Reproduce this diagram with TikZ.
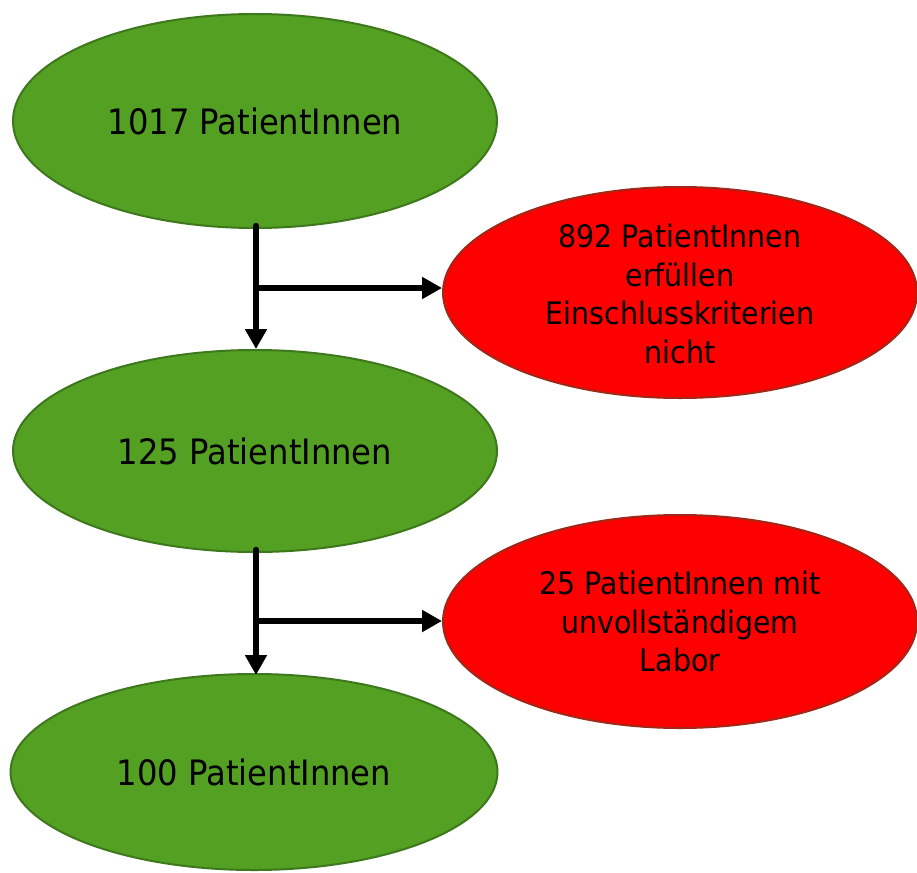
\documentclass[tikz,border=0pt]{standalone}
\usepackage{fontspec}
\setmainfont{DejaVu Sans}[FakeStretch=0.92]
\usetikzlibrary{arrows.meta,shapes.geometric}
\definecolor{gfill}{RGB}{84,160,34}
\definecolor{gline}{RGB}{62,120,28}
\definecolor{rfill}{RGB}{255,0,0}
\definecolor{rline}{RGB}{160,40,24}
\tikzset{
  gell/.style={ellipse, draw=gline, fill=gfill, line width=2pt, inner sep=0pt},
  rell/.style={ellipse, draw=rline, fill=rfill, line width=2pt, inner sep=0pt},
  gtxt/.style={inner sep=0pt, align=center, font=\fontsize{35}{42}\selectfont},
  rtxt/.style={inner sep=0pt, align=center, font=\fontsize{31}{38.7}\selectfont},
  flow/.style={line width=6.5pt, -{Triangle[length=20pt,width=21pt]}},
}
\begin{document}
\begin{tikzpicture}[x=1pt,y=-1pt]
\useasboundingbox (0,0) rectangle (917,872);
% ellipses
\node[gell, minimum width=484pt, minimum height=214pt] (g1) at (255,121) {};
\node[gell, minimum width=484pt, minimum height=202pt] (g2) at (255,451) {};
\node[gell, minimum width=487pt, minimum height=196pt] (g3) at (254,772) {};
\node[rell, minimum width=474pt, minimum height=211pt] (r1) at (680,292.5) {};
\node[rell, minimum width=474pt, minimum height=213pt] (r2) at (680,621.5) {};
% texts
\node[gtxt] (t1) at (g1) {1017 PatientInnen};
\node[gtxt] (t2) at (g2) {125 PatientInnen};
\node[gtxt] (t3) at (g3) {100 PatientInnen};
\node[rtxt] (t4) at ([yshift=-1.5pt]r1.center) {892 PatientInnen\\erfüllen\\Einschlusskriterien\\nicht};
\node[rtxt] (t5) at (r2) {25 PatientInnen mit\\unvollständigem\\Labor};
% connectors
\coordinate (b1) at (256,288);
\coordinate (b2) at (256,621);
\draw[flow, line cap=round] ([xshift=1pt,yshift=3pt]g1.south) -- ([xshift=1pt]g2.north);
\draw[flow] (b1) -- (b1 -| r1.west);
\draw[flow, line cap=round] ([xshift=1pt,yshift=3pt]g2.south) -- ([xshift=2pt,yshift=-2pt]g3.north);
\draw[flow] (b2) -- (b2 -| r2.west);
\end{tikzpicture}
\end{document}
